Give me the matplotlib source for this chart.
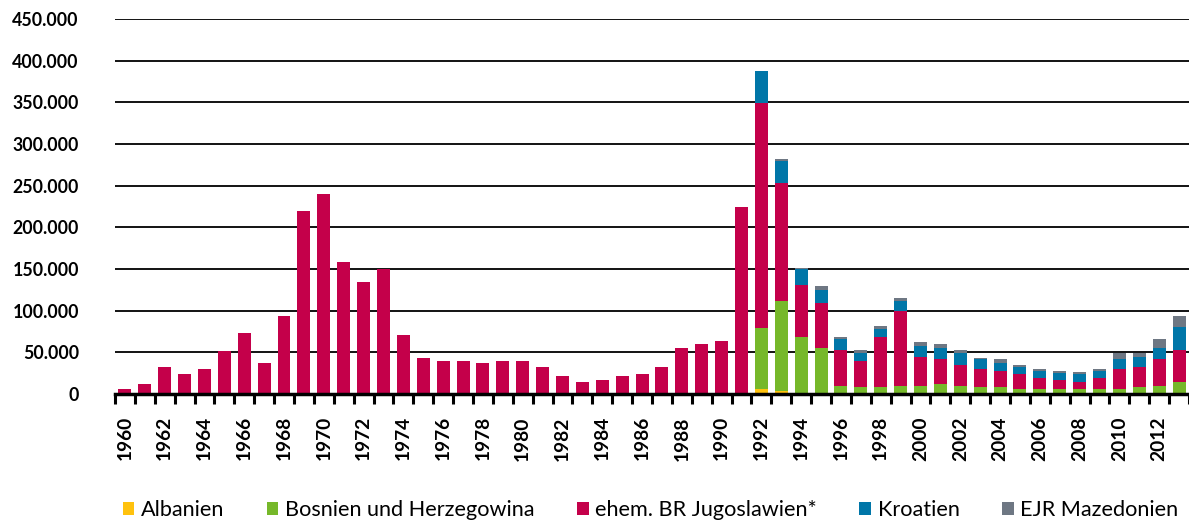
import matplotlib.pyplot as plt
import matplotlib.ticker as mticker

years = list(range(1960, 2014))

# Zuzüge aus dem ehemaligen Jugoslawien (Personen)
albanien = [0] * 32 + [5700, 3600] + [0] * 20

bosnien = [0] * 32 + [74000, 108000, 68700, 55400, 10000, 8100, 8100, 10000,
                      10000, 12400, 10000, 8100, 8100, 5700, 5700, 5700, 5700,
                      5700, 5700, 8100, 10000, 14500]

jugoslawien = [5700, 12400, 32500, 23700, 30100, 51000, 73100, 37400, 93600,
               219300, 239800, 158700, 133800, 149400, 70700, 43700, 39400,
               39400, 37000, 39400, 39400, 32500, 21300, 14500, 16900, 21300,
               23700, 32500, 55100, 59900, 63900, 223800,
               270000, 141000, 62600, 53400, 42700, 31300, 60200, 90000,
               34200, 29400, 24900, 22400, 20000, 18000, 13600, 11200, 9100,
               13600, 24800, 24400, 31800, 38500]

kroatien = [0] * 32 + [37800, 27300, 18100, 15700, 13200, 9200, 9200, 11200,
                       12800, 12800, 13700, 11300, 8900, 8800, 8800, 8800, 8900,
                       8800, 11300, 11700, 12800, 26900]

mazedonien = [0] * 32 + [0, 2000, 2000, 4800, 2400, 4400, 4400, 4500,
                         4800, 4800, 4400, 1900, 4800, 2400, 2400, 2400, 2400,
                         2400, 6800, 4400, 11700, 13700]

labels = ["Albanien", "Bosnien und Herzegowina", "ehem. BR Jugoslawien*",
          "Kroatien", "EJR Mazedonien"]
colors = ["#FFC20E", "#76B82A", "#C4004A", "#0076A8", "#6E7783"]

plt.rcParams['font.family'] = ['Lato', 'DejaVu Sans']

fig = plt.figure(figsize=(11.89, 5.23), dpi=100)
ax = fig.add_axes([0.0967, 0.2467, 0.9033, 0.717])

series = [albanien, bosnien, jugoslawien, kroatien, mazedonien]
bottom = [0] * len(years)
for vals, lab, col in zip(series, labels, colors):
    ax.bar(years, vals, width=0.65, bottom=bottom, color=col, label=lab,
           zorder=3)
    bottom = [b + v for b, v in zip(bottom, vals)]

ax.set_ylim(0, 450000)
ax.set_xlim(1959.52, 2013.3)
ax.yaxis.set_major_locator(mticker.MultipleLocator(50000))
ax.yaxis.set_major_formatter(
    mticker.FuncFormatter(lambda v, p: f"{int(v):,}".replace(",", ".")))
ax.grid(axis='y', color='black', linewidth=1.3, zorder=0)
ax.tick_params(axis='y', length=0, pad=26, labelsize=12.8)
for t in ax.get_yticklabels():
    t.set_fontweight('bold')

# Jahreszahlen jedes zweite Jahr, Striche zwischen den Balken
ax.set_xticks(years[::2])
ax.set_xticklabels([str(y) for y in years[::2]], rotation=90,
                   fontweight='bold', fontsize=13.8)
ax.set_xticks([y - 0.5 for y in years] + [2013.5], minor=True)
ax.tick_params(axis='x', which='major', length=0, pad=16)
ax.tick_params(axis='x', which='minor', length=7, width=2.2, direction='out')

for s in ['top', 'right', 'left']:
    ax.spines[s].set_visible(False)
ax.spines['bottom'].set_linewidth(2.5)
ax.spines['bottom'].set_zorder(4)

fig.legend(loc='lower center', bbox_to_anchor=(0.547, -0.032), ncol=5,
           frameon=False, fontsize=15.6, handlelength=0.55, handleheight=0.55,
           handletextpad=0.3, columnspacing=1.95)

fig.savefig("out.png", dpi=100)
